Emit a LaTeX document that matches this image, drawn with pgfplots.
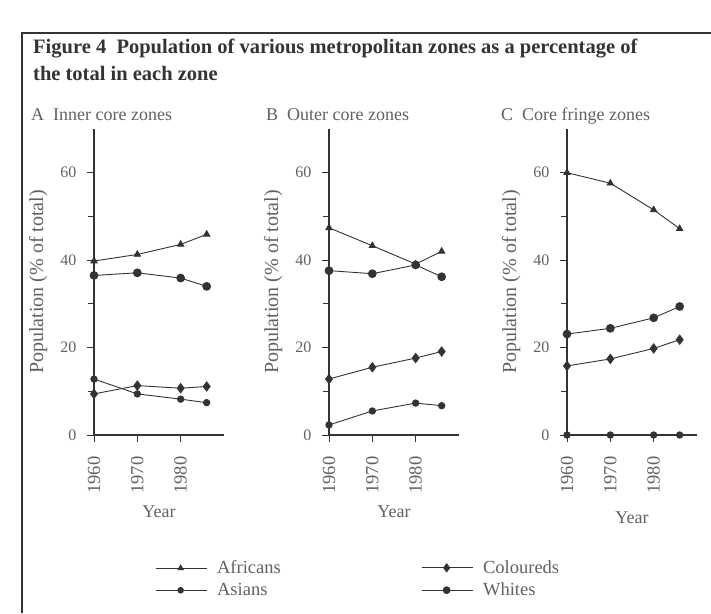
\documentclass[border=0pt]{standalone}
\usepackage{pgfplots}
\pgfplotsset{compat=1.18}
\usepackage{fontspec}
\setmainfont{Liberation Serif}
\definecolor{ink}{gray}{0.2}
\definecolor{txt}{gray}{0.38}
\pgfplotsset{
  panel/.style={
    scale only axis, width=130pt, height=306pt, clip=false,
    xmin=1960, xmax=1990, ymin=0, ymax=70,
    axis x line=bottom, axis y line=left,
    axis line style={-, ink, line width=1.1pt},
    xtick={1960,1970,1980}, ytick={0,20,40,60}, minor ytick={10,30,50},
    tick align=outside, major tick length=7pt, minor tick length=6pt,
    tick style={ink, line width=1pt},
    /pgf/number format/1000 sep={},
    /pgf/number format/assume math mode=true,
    xticklabel style={rotate=90, anchor=east, font=\fontsize{18.5}{18.5}\selectfont, text=txt},
    xticklabel shift=11pt,
    yticklabel style={font=\fontsize{16}{16}\selectfont, text=txt},
    yticklabel shift=7pt,
    ylabel={Population (\% of total)},
    ylabel style={at={(axis description cs:-0.43,0.5)}, anchor=center, font=\fontsize{20}{20}\selectfont, text=txt},
    xlabel={Year},
    xlabel style={anchor=center, font=\fontsize{18}{18}\selectfont, text=txt},
  },
  ser/.style={ink, line width=0.9pt},
  afr/.style={ser, mark=triangle*, mark size=3.6pt},
  asi/.style={ser, mark=*, mark size=3.2pt},
  col/.style={ser, mark=diamond*, mark size=4.6pt},
  whi/.style={ser, mark=*, mark size=3.9pt},
  legax/.style={hide axis, scale only axis, width=10pt, height=10pt,
    xmin=0, xmax=1, ymin=0, ymax=1, anchor=south west,
    legend style={at={(0,0)}, anchor=west, draw=none, fill=none, inner sep=0pt,
      row sep=8pt, column sep=10pt, font=\fontsize{18.5}{18.5}\selectfont, text=txt,
      nodes={inner sep=0pt}},
    legend cell align=left,
    legend image code/.code={\draw[mark repeat=2,mark phase=2,##1] plot coordinates {(0pt,0pt) (25pt,0pt) (51pt,0pt)};},
  },
}
\begin{document}
\begin{tikzpicture}[x=1pt,y=1pt]
\useasboundingbox (0,0) rectangle (711,613);
\draw[ink, line width=1.6pt] (22,0) -- (22,580) -- (711,580);
\node[anchor=base west, inner sep=0pt, font=\fontsize{20.5}{20.5}\selectfont\bfseries, text=ink] at (33,559) {Figure 4\enspace Population of various metropolitan zones as a percentage of};
\node[anchor=base west, inner sep=0pt, font=\fontsize{20.5}{20.5}\selectfont\bfseries, text=ink] at (33,532) {the total in each zone};
\node[anchor=base west, inner sep=0pt, font=\fontsize{18}{18}\selectfont, text=txt] at (31,492) {A\enspace Inner core zones};
\node[anchor=base west, inner sep=0pt, font=\fontsize{18}{18}\selectfont, text=txt] at (266,492) {B\enspace Outer core zones};
\node[anchor=base west, inner sep=0pt, font=\fontsize{18}{18}\selectfont, text=txt] at (501,492) {C\enspace Core fringe zones};

% Panel A
\begin{axis}[panel, at={(94pt,178pt)}, anchor=south west,
  xlabel style={at={(axis description cs:0.5,-0.252)}}]
\addplot[afr] coordinates {(1960,39.8) (1970,41.3) (1980,43.6) (1986,45.9)};
\addplot[whi] coordinates {(1960,36.5) (1970,37.1) (1980,35.9) (1986,34.0)};
\addplot[asi] coordinates {(1960,12.8) (1970,9.4) (1980,8.2) (1986,7.4)};
\addplot[col] coordinates {(1960,9.4) (1970,11.3) (1980,10.7) (1986,11.1)};
\end{axis}

% Panel B
\begin{axis}[panel, at={(329pt,178pt)}, anchor=south west,
  xlabel style={at={(axis description cs:0.5,-0.252)}}]
\addplot[afr] coordinates {(1960,47.4) (1970,43.3) (1980,39.1) (1986,42.0)};
\addplot[whi] coordinates {(1960,37.6) (1970,36.9) (1980,38.9) (1986,36.2)};
\addplot[col] coordinates {(1960,12.8) (1970,15.5) (1980,17.6) (1986,19.1)};
\addplot[asi] coordinates {(1960,2.3) (1970,5.5) (1980,7.3) (1986,6.7)};
\end{axis}

% Panel C
\begin{axis}[panel, at={(567pt,178pt)}, anchor=south west,
  xlabel style={at={(axis description cs:0.5,-0.271)}}]
\addplot[afr] coordinates {(1960,60.0) (1970,57.6) (1980,51.5) (1986,47.2)};
\addplot[whi] coordinates {(1960,23.1) (1970,24.4) (1980,26.8) (1986,29.4)};
\addplot[col] coordinates {(1960,15.8) (1970,17.4) (1980,19.8) (1986,21.8)};
\addplot[asi] coordinates {(1960,0) (1970,0) (1980,0) (1986,0)};
\end{axis}

% Legends
\begin{axis}[legax, at={(155pt,34pt)}]
\addlegendimage{afr, mark size=3pt}
\addlegendentry{Africans}
\addlegendimage{asi, mark size=2.8pt}
\addlegendentry{Asians}
\end{axis}
\begin{axis}[legax, at={(421pt,34pt)}]
\addlegendimage{col, mark size=4pt}
\addlegendentry{Coloureds}
\addlegendimage{whi, mark size=3.4pt}
\addlegendentry{Whites}
\end{axis}
\end{tikzpicture}
\end{document}
